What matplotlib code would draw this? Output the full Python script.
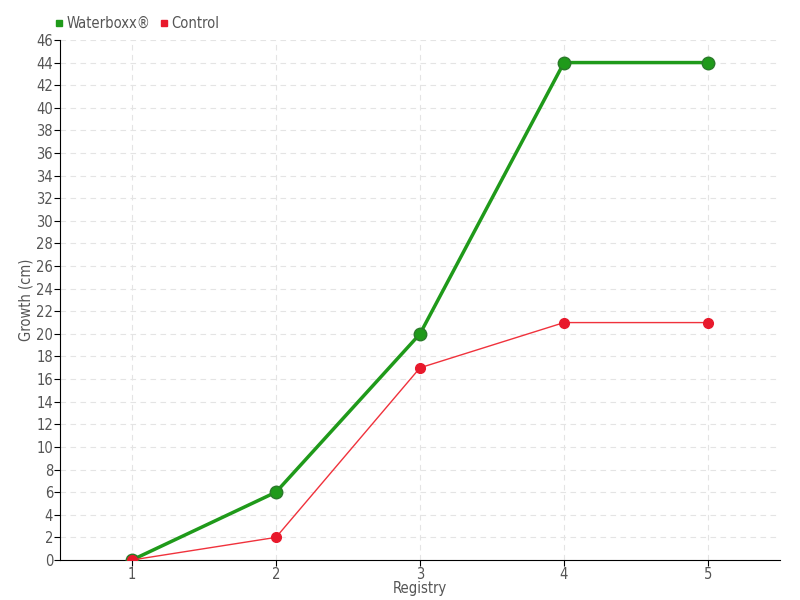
import matplotlib.pyplot as plt
from matplotlib.lines import Line2D

registry = [1, 2, 3, 4, 5]
waterboxx = [0, 6, 20, 44, 44]
control = [0, 2, 17, 21, 21]
y_ticks = list(range(0, 47, 2))

plt.rcParams['font.family'] = ['DejaVu Sans']
plt.rcParams['font.stretch'] = 'condensed'
text_color = '#555555'

fig = plt.figure(figsize=(8, 6), dpi=100)
ax = fig.add_axes([0.075, 0.0667, 0.9, 0.8667])

ax.plot(registry, waterboxx, color='#1f9a1a', linewidth=2.5, marker='o',
        markersize=9, markerfacecolor='#1f9a1a', markeredgecolor='#2a7a2a',
        label='Waterboxx®', zorder=3)
ax.plot(registry, control, color='#f0323c', linewidth=1, marker='o',
        markersize=7, markerfacecolor='#e8192c', markeredgecolor='#e8192c',
        label='Control', zorder=4)

ax.set_xlim(0.5, 5.5)
ax.set_ylim(0, 46)
ax.set_xticks(registry)
ax.set_yticks(y_ticks)
ax.grid(True, color='#e4e4e4', linestyle=(0, (5, 4)), linewidth=0.8)
ax.set_axisbelow(True)
for s in ['top', 'right']:
    ax.spines[s].set_visible(False)
ax.tick_params(colors='black', labelcolor=text_color, labelsize=10.5,
               length=4, pad=1)
ax.set_xlabel('Registry', color=text_color, fontsize=10.5, labelpad=-1)
ax.set_ylabel('Growth (cm)', color=text_color, fontsize=10.5, labelpad=2)

handles = [Line2D([], [], color='#1f9a1a', marker='s', linestyle='none', markersize=5),
           Line2D([], [], color='#e8192c', marker='s', linestyle='none', markersize=5)]
fig.legend(handles, ['Waterboxx®', 'Control'], loc='upper left',
           bbox_to_anchor=(0.052, 0.995), ncol=2, frameon=False,
           handlelength=0.6, handletextpad=0.2, columnspacing=0.6,
           labelcolor=text_color, fontsize=10.5)

fig.savefig('out.png', dpi=100)
